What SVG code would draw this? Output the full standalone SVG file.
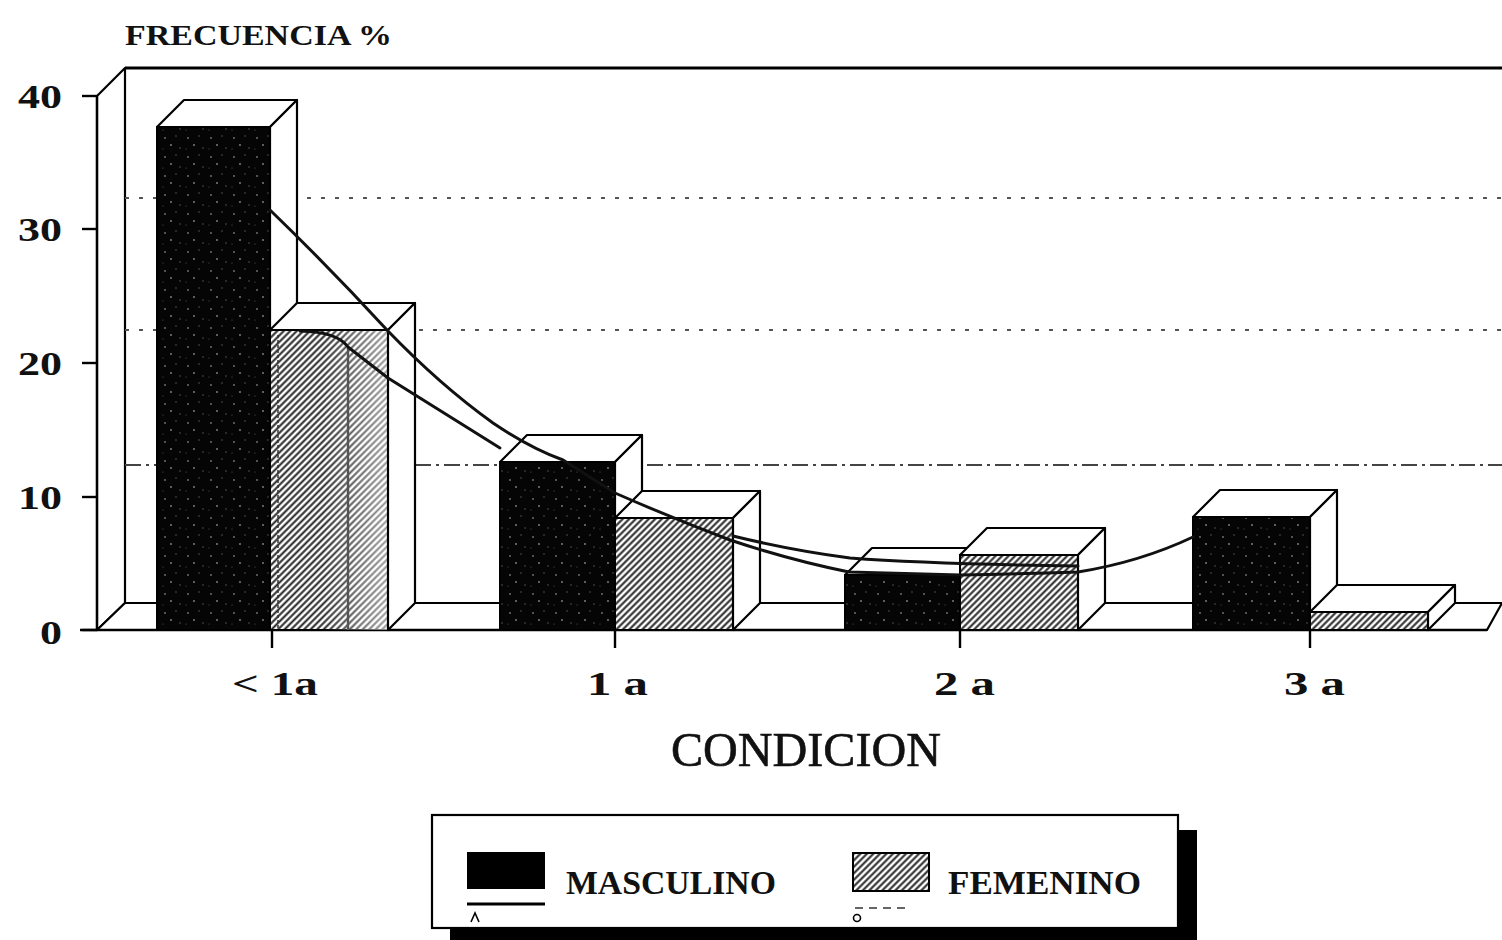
<svg xmlns="http://www.w3.org/2000/svg" width="1502" height="940" viewBox="0 0 1502 940">
<defs>
<style>
.wall{fill:#fff;stroke:#000;stroke-width:2.2;stroke-linejoin:round}
.face{fill:#fff;stroke:#000;stroke-width:2.2;stroke-linejoin:round}
.masc{fill:url(#speck);stroke:#000;stroke-width:2}
.fem{fill:url(#hatch);stroke:#000;stroke-width:2}
.grid{stroke:#555;stroke-width:2.2;stroke-dasharray:4 10;fill:none}
.grid2{stroke:#444;stroke-width:2.2;stroke-dasharray:16 5 3 5;fill:none}
.axis{stroke:#000;stroke-width:2.4;fill:none}
.tick{stroke:#000;stroke-width:2.4}
.trend{fill:none;stroke:#111;stroke-width:3;stroke-linejoin:round;stroke-linecap:round}
.lbl{font-family:"Liberation Serif","Times New Roman",serif;font-weight:bold;fill:#111}
.title{font-family:"Liberation Serif","Times New Roman",serif;fill:#111;stroke:#111;stroke-width:0.6}
</style>
<pattern id="hatch" patternUnits="userSpaceOnUse" width="10" height="4.6" patternTransform="rotate(-45)">
<rect width="10" height="4.6" fill="#fff"/>
<line x1="0" y1="2.3" x2="10" y2="2.3" stroke="#222" stroke-width="2"/>
</pattern>
<pattern id="speck" patternUnits="userSpaceOnUse" width="23" height="19">
<rect width="23" height="19" fill="#050505"/>
<circle cx="4" cy="5" r="0.9" fill="#777"/>
<circle cx="15" cy="3" r="0.7" fill="#666"/>
<circle cx="10" cy="12" r="0.9" fill="#888"/>
<circle cx="19" cy="15" r="0.7" fill="#666"/>
<circle cx="2" cy="16" r="0.6" fill="#555"/>
</pattern>
<linearGradient id="fade" x1="0" y1="0" x2="1" y2="0">
<stop offset="0.45" stop-color="#fff" stop-opacity="0"/>
<stop offset="1" stop-color="#fff" stop-opacity="0.55"/>
</linearGradient>
</defs>
<rect width="1502" height="940" fill="#fff"/>

<g id="frame">
<polygon class="wall" points="97,96 125,68 125,603 97,630"/>
<polygon class="wall" points="97,630 125,603 1502,603 1487,630"/>
<line x1="125" y1="68" x2="1502" y2="68" stroke="#000" stroke-width="3"/>
<line class="grid" x1="125" y1="198" x2="1502" y2="198"/>
<line class="grid" x1="125" y1="330" x2="1502" y2="330"/>
<line class="grid2" x1="125" y1="465" x2="1502" y2="465"/>
<line class="axis" x1="80" y1="630" x2="1487" y2="630"/>
<line class="axis" x1="97" y1="96" x2="97" y2="630"/>
<line class="tick" x1="82" y1="96" x2="97" y2="96"/>
<line class="tick" x1="82" y1="229" x2="97" y2="229"/>
<line class="tick" x1="82" y1="363" x2="97" y2="363"/>
<line class="tick" x1="82" y1="497" x2="97" y2="497"/>
<line class="tick" x1="82" y1="630" x2="97" y2="630"/>
</g>

<g id="bars-lt1a">
<rect class="masc" x="157" y="127" width="113" height="503"/>
<polygon class="face" points="157,127 184,100 297,100 270,127"/>
<polygon class="face" points="270,127 297,100 297,603 270,630"/>
<rect class="fem" x="270" y="330" width="118" height="300"/>
<rect x="270" y="330" width="118" height="300" fill="url(#fade)"/>
<polygon class="face" points="270,330 297,303 415,303 388,330"/>
<polygon class="face" points="388,330 415,303 415,603 388,630"/>
<line x1="348" y1="348" x2="348" y2="630" stroke="#555" stroke-width="2.4"/>
<line x1="278" y1="335" x2="278" y2="630" stroke="#333" stroke-width="1.5" stroke-dasharray="3 2"/>
</g>

<path id="trend-f1" class="trend" d="M300,331 Q338,332 348,347 L388,378 L500,448"/>

<g id="bars-1a">
<rect class="masc" x="500" y="462" width="115" height="168"/>
<polygon class="face" points="500,462 527,435 642,435 615,462"/>
<polygon class="face" points="615,462 642,435 642,603 615,630"/>
<rect class="fem" x="615" y="518" width="118" height="112"/>
<polygon class="face" points="615,518 642,491 760,491 733,518"/>
<polygon class="face" points="733,518 760,491 760,603 733,630"/>
</g>

<g id="bars-2a">
<rect class="masc" x="845" y="575" width="115" height="55"/>
<polygon class="face" points="845,575 872,548 987,548 960,575"/>
<polygon class="face" points="960,575 987,548 987,603 960,630"/>
<rect class="fem" x="960" y="555" width="118" height="75"/>
<polygon class="face" points="960,555 987,528 1105,528 1078,555"/>
<polygon class="face" points="1078,555 1105,528 1105,603 1078,630"/>
</g>

<g id="bars-3a">
<rect class="masc" x="1193" y="517" width="117" height="113"/>
<polygon class="face" points="1193,517 1220,490 1337,490 1310,517"/>
<polygon class="face" points="1310,517 1337,490 1337,603 1310,630"/>
<rect class="fem" x="1310" y="612" width="118" height="18"/>
<polygon class="face" points="1310,612 1337,585 1455,585 1428,612"/>
<polygon class="face" points="1428,612 1455,585 1455,603 1428,630"/>
</g>

<g id="connectors">
<path class="trend" d="M270,210 Q330,268 387,330 Q440,385 493,423 Q530,448 563,460 L615,493 Q672,518 730,540 Q790,560 849,572 L960,575 Q1020,574 1078,572 Q1140,562 1193,537"/>
<path class="trend" d="M733,536 Q790,550 850,558 Q930,564 1078,566"/>
<line class="tick" x1="272" y1="630" x2="272" y2="648"/>
<line class="tick" x1="615" y1="630" x2="615" y2="648"/>
<line class="tick" x1="960" y1="630" x2="960" y2="648"/>
<line class="tick" x1="1310" y1="630" x2="1310" y2="648"/>
</g>

<g id="labels">
<text class="lbl" x="125" y="45" font-size="30" textLength="267" lengthAdjust="spacingAndGlyphs">FRECUENCIA %</text>
<text class="lbl" x="18" y="108" font-size="34" textLength="44" lengthAdjust="spacingAndGlyphs">40</text>
<text class="lbl" x="18" y="241" font-size="34" textLength="44" lengthAdjust="spacingAndGlyphs">30</text>
<text class="lbl" x="18" y="375" font-size="34" textLength="44" lengthAdjust="spacingAndGlyphs">20</text>
<text class="lbl" x="18" y="509" font-size="34" textLength="44" lengthAdjust="spacingAndGlyphs">10</text>
<text class="lbl" x="40" y="644" font-size="34" textLength="22" lengthAdjust="spacingAndGlyphs">0</text>
<text class="lbl" x="232" y="695" font-size="34" textLength="86" lengthAdjust="spacingAndGlyphs">&lt; 1a</text>
<text class="lbl" x="587" y="695" font-size="34" textLength="61" lengthAdjust="spacingAndGlyphs">1 a</text>
<text class="lbl" x="934" y="695" font-size="34" textLength="61" lengthAdjust="spacingAndGlyphs">2 a</text>
<text class="lbl" x="1284" y="695" font-size="34" textLength="61" lengthAdjust="spacingAndGlyphs">3 a</text>
<text class="title" x="671" y="766" font-size="48" textLength="270" lengthAdjust="spacingAndGlyphs">CONDICION</text>
</g>

<g id="legend">
<rect x="450" y="830" width="747" height="120" fill="#000"/>
<rect x="432" y="815" width="746" height="113" fill="#fff" stroke="#000" stroke-width="2.2"/>
<rect x="467" y="852" width="78" height="37" fill="#000"/>
<line x1="467" y1="904" x2="545" y2="904" stroke="#000" stroke-width="3"/>
<path d="M471,922 L475,913 L479,922" fill="none" stroke="#000" stroke-width="1.6"/>
<text class="lbl" x="566" y="894" font-size="33" textLength="210" lengthAdjust="spacingAndGlyphs">MASCULINO</text>
<rect x="853" y="853" width="76" height="38" fill="url(#hatch)" stroke="#000" stroke-width="2"/>
<line x1="855" y1="908" x2="910" y2="908" stroke="#333" stroke-width="1.6" stroke-dasharray="8 6"/>
<circle cx="857" cy="918" r="3.5" fill="none" stroke="#000" stroke-width="1.6"/>
<text class="lbl" x="948" y="894" font-size="33" textLength="193" lengthAdjust="spacingAndGlyphs">FEMENINO</text>
</g>
</svg>
